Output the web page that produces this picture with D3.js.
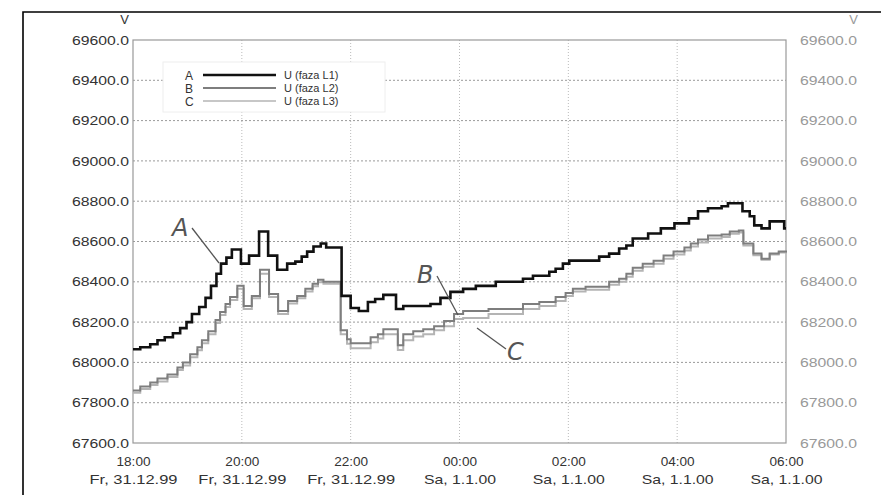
<!DOCTYPE html>
<html lang="sl">
<head>
<meta charset="utf-8">
<title>U (faza L1-L3)</title>
<style>
  body { margin: 0; background: #fff; }
  svg { display: block; font-family: "Liberation Sans", Arial, sans-serif; }
  .ytick text { font-size: 13px; fill: #333; }
  .ytickR text { font-size: 13px; fill: #999; }
  .xtick text { font-size: 13px; fill: #333; }
</style>
</head>
<body>
<script src="https://cdn.jsdelivr.net/npm/d3@7"></script>
<script>
// minutes after 18:00 (Fr, 31.12.99)
var timesA = [0, 8, 19, 27, 35, 44, 52, 59, 65, 73, 80, 86, 92, 97, 103, 109, 119, 128, 139, 149,
  159, 170, 179, 186, 192, 199, 207, 213, 230, 240, 249, 259, 267, 276, 290, 298, 328, 339, 350, 364,
  378, 400, 430, 441, 459, 466, 474, 481, 514, 525, 536, 544, 551, 568, 582, 597, 613, 623, 634, 649,
  656, 672, 680, 685, 693, 702, 718, 720];
var voltA = [68065, 68075, 68090, 68110, 68125, 68145, 68170, 68200, 68240, 68275, 68320, 68380, 68440, 68490, 68520, 68560, 68490, 68530, 68650, 68530,
  68460, 68490, 68500, 68525, 68550, 68575, 68590, 68570, 68330, 68270, 68255, 68300, 68315, 68335, 68265, 68280, 68290, 68320, 68350, 68365,
  68380, 68400, 68415, 68430, 68450, 68465, 68490, 68505, 68525, 68540, 68565, 68580, 68615, 68640, 68665, 68690, 68715, 68750, 68765, 68775,
  68790, 68750, 68725, 68680, 68665, 68700, 68665, 68665];

var timesBC = [0, 8, 19, 27, 38, 49, 55, 63, 71, 76, 83, 91, 96, 102, 107, 115, 122, 131, 140, 150,
  160, 171, 181, 190, 198, 204, 210, 229, 236, 240, 262, 270, 276, 292, 298, 309, 320, 332, 343, 354,
  364, 392, 430, 448, 466, 477, 485, 499, 525, 536, 544, 551, 562, 574, 585, 596, 608, 615, 623, 634,
  649, 658, 668, 673, 684, 693, 702, 712, 720];
var voltB = [67860, 67880, 67900, 67920, 67940, 67975, 68000, 68040, 68075, 68110, 68155, 68210, 68250, 68290, 68325, 68380, 68280, 68330, 68460, 68340,
  68255, 68305, 68330, 68365, 68390, 68410, 68400, 68160, 68115, 68095, 68125, 68140, 68165, 68085, 68140, 68155, 68165, 68180, 68205, 68240,
  68255, 68265, 68290, 68300, 68325, 68345, 68365, 68375, 68400, 68415, 68440, 68470, 68490, 68505, 68530, 68550, 68570, 68590, 68610, 68630,
  68635, 68650, 68655, 68590, 68540, 68515, 68540, 68550, 68555];
var voltC = [67850, 67868, 67888, 67905, 67928, 67962, 67985, 68025, 68060, 68095, 68140, 68195, 68235, 68275, 68310, 68365, 68265, 68318, 68440, 68325,
  68240, 68292, 68318, 68352, 68378, 68398, 68390, 68140, 68092, 68070, 68100, 68118, 68140, 68062, 68110, 68128, 68140, 68160, 68180, 68215,
  68220, 68240, 68265, 68280, 68305, 68330, 68352, 68360, 68385, 68400, 68425, 68455, 68475, 68490, 68515, 68535, 68555, 68575, 68595, 68615,
  68622, 68638, 68645, 68580, 68532, 68510, 68535, 68545, 68550];

var yTicks = [67600, 67800, 68000, 68200, 68400, 68600, 68800, 69000, 69200, 69400, 69600];
var xTickHours = [0, 2, 4, 6, 8, 10, 12];
var xTickTimes = ["18:00", "20:00", "22:00", "00:00", "02:00", "04:00", "06:00"];
var xTickDates = ["Fr, 31.12.99", "Fr, 31.12.99", "Fr, 31.12.99", "Sa, 1.1.00", "Sa, 1.1.00", "Sa, 1.1.00", "Sa, 1.1.00"];

var seriesKeys = ["A", "B", "C"];
var seriesNames = ["U (faza L1)", "U (faza L2)", "U (faza L3)"];

var width = 881, height = 495;
var plotLeft = 133, plotRight = 786, plotTop = 40, plotBottom = 443;

var svg = d3.select("body").append("svg")
    .attr("width", width)
    .attr("height", height);

svg.append("rect").attr("width", width).attr("height", height).attr("fill", "#fff");

// outer frame
svg.append("path")
    .attr("d", "M23," + height + "V12H" + width)
    .attr("fill", "none")
    .attr("stroke", "#000")
    .attr("stroke-width", 1.6);

var t0 = new Date(1999, 11, 31, 18, 0);
function toDate(m) { return new Date(t0.getTime() + m * 60000); }

var x = d3.scaleTime()
    .domain([t0, toDate(720)])
    .range([plotLeft, plotRight]);
var y = d3.scaleLinear()
    .domain([67600, 69600])
    .range([plotBottom, plotTop]);

// grid
svg.append("g")
    .selectAll("line")
    .data(yTicks.slice(1, -1))
    .enter().append("line")
    .attr("x1", plotLeft).attr("x2", plotRight)
    .attr("y1", function(d) { return y(d); })
    .attr("y2", function(d) { return y(d); })
    .attr("stroke", "#9a9a9a")
    .attr("stroke-width", 1)
    .attr("stroke-dasharray", "2,2");

svg.append("g")
    .selectAll("line")
    .data(xTickHours.slice(1, -1))
    .enter().append("line")
    .attr("x1", function(d) { return x(toDate(d * 60)); })
    .attr("x2", function(d) { return x(toDate(d * 60)); })
    .attr("y1", plotTop).attr("y2", plotBottom)
    .attr("stroke", "#bbb")
    .attr("stroke-width", 1)
    .attr("stroke-dasharray", "1,2");

// plot border
svg.append("rect")
    .attr("x", plotLeft).attr("y", plotTop)
    .attr("width", plotRight - plotLeft).attr("height", plotBottom - plotTop)
    .attr("fill", "none")
    .attr("stroke", "#999")
    .attr("stroke-width", 1.2);

// axes (labels only)
var yAxisL = d3.axisLeft(y).tickValues(yTicks).tickFormat(d3.format(".1f")).tickSize(0).tickPadding(4);
var gL = svg.append("g").attr("class", "ytick").attr("transform", "translate(" + plotLeft + ",0)").call(yAxisL);
gL.select(".domain").remove();
gL.selectAll("text").attr("textLength", 57).attr("lengthAdjust", "spacingAndGlyphs");

var yAxisR = d3.axisRight(y).tickValues(yTicks).tickFormat(d3.format(".1f")).tickSize(0).tickPadding(14);
var gR = svg.append("g").attr("class", "ytickR").attr("transform", "translate(" + plotRight + ",0)").call(yAxisR);
gR.select(".domain").remove();
gR.selectAll("text").attr("textLength", 57).attr("lengthAdjust", "spacingAndGlyphs");

var xAxis = d3.axisBottom(x)
    .tickValues(xTickHours.map(function(h) { return toDate(h * 60); }))
    .tickFormat(function(d, i) { return xTickTimes[i]; })
    .tickSize(0).tickPadding(14);
var gX = svg.append("g").attr("class", "xtick").attr("transform", "translate(0," + plotBottom + ")").call(xAxis);
gX.select(".domain").remove();
gX.selectAll(".tick text").attr("textLength", 34).attr("lengthAdjust", "spacingAndGlyphs");
gX.selectAll(".tick").append("text")
    .attr("fill", "#333")
    .attr("y", 41)
    .attr("text-anchor", "middle")
    .attr("textLength", function(d, i) { return xTickDates[i].length > 10 ? 88 : 72; })
    .attr("lengthAdjust", "spacingAndGlyphs")
    .text(function(d, i) { return xTickDates[i]; });

svg.append("text").attr("x", 129).attr("y", 24).attr("text-anchor", "end")
    .attr("font-size", 13).attr("fill", "#333").text("V");
svg.append("text").attr("x", 858).attr("y", 24).attr("text-anchor", "end")
    .attr("font-size", 13).attr("fill", "#999").text("V");

// lines
var line = d3.line()
    .x(function(d) { return x(toDate(d[0])); })
    .y(function(d) { return y(d[1]); })
    .curve(d3.curveStepAfter);

var lineData = [
    { key: "C", pts: d3.zip(timesBC, voltC), color: "#b4b4b4", w: 2 },
    { key: "B", pts: d3.zip(timesBC, voltB), color: "#7e7e7e", w: 2 },
    { key: "A", pts: d3.zip(timesA, voltA), color: "#111", w: 2.6 }
];

svg.append("g")
    .selectAll("path")
    .data(lineData)
    .enter().append("path")
    .attr("fill", "none")
    .attr("stroke", function(d) { return d.color; })
    .attr("stroke-width", function(d) { return d.w; })
    .attr("stroke-linejoin", "miter")
    .attr("d", function(d) { return line(d.pts); });

// legend
var legendColors = ["#111", "#7e7e7e", "#b4b4b4"];
var legendW = [2.6, 2, 1.6];
svg.append("rect")
    .attr("x", 163).attr("y", 62).attr("width", 222).attr("height", 50)
    .attr("fill", "#fff").attr("stroke", "#eee");
var lg = svg.append("g")
    .selectAll("g")
    .data(seriesKeys)
    .enter().append("g")
    .attr("transform", function(d, i) { return "translate(0," + (75 + i * 13) + ")"; });
lg.append("text").attr("x", 185).attr("y", 4.5).attr("font-size", 12).attr("fill", "#333")
    .text(function(d) { return d; });
lg.append("line").attr("x1", 203).attr("x2", 276)
    .attr("stroke", function(d, i) { return legendColors[i]; })
    .attr("stroke-width", function(d, i) { return legendW[i]; });
lg.append("text").attr("x", 284).attr("y", 4).attr("font-size", 11).attr("fill", "#333")
    .text(function(d, i) { return seriesNames[i]; });

// annotations
var notes = [
    { t: "A", tx: 172, ty: 236, x1: 192, y1: 228, x2: 219, y2: 263 },
    { t: "B", tx: 417, ty: 283, x1: 437, y1: 276, x2: 458, y2: 315 },
    { t: "C", tx: 507, ty: 360, x1: 477, y1: 328, x2: 506, y2: 349 }
];
var ng = svg.append("g").selectAll("g").data(notes).enter().append("g");
ng.append("line")
    .attr("x1", function(d) { return d.x1; }).attr("y1", function(d) { return d.y1; })
    .attr("x2", function(d) { return d.x2; }).attr("y2", function(d) { return d.y2; })
    .attr("stroke", "#555").attr("stroke-width", 1.3);
ng.append("text")
    .attr("x", function(d) { return d.tx; }).attr("y", function(d) { return d.ty; })
    .attr("font-size", 24).attr("font-style", "italic").attr("font-weight", 300)
    .attr("font-family", "'DejaVu Sans', sans-serif")
    .attr("fill", "#555")
    .text(function(d) { return d.t; });
</script>
</body>
</html>
